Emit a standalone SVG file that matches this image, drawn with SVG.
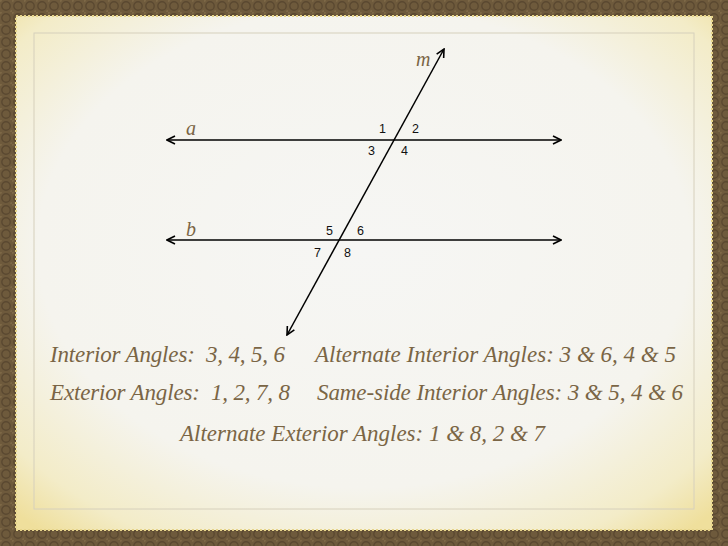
<svg xmlns="http://www.w3.org/2000/svg" width="728" height="546" viewBox="0 0 728 546">
<defs>
<pattern id="frm" width="12" height="12" patternUnits="userSpaceOnUse">
<rect width="12" height="12" fill="#6e5a3c"/>
<circle cx="6" cy="6" r="4.2" fill="none" stroke="#5a4830" stroke-width="1.4"/>
<circle cx="0" cy="0" r="2" fill="#7d6846"/>
<circle cx="12" cy="12" r="2" fill="#7d6846"/>
</pattern>
<radialGradient id="paper" cx="0.5" cy="0.45" r="0.72">
<stop offset="0" stop-color="#f6f6f4"/>
<stop offset="0.65" stop-color="#f5f4ee"/>
<stop offset="0.88" stop-color="#f3ecc8"/>
<stop offset="1" stop-color="#efdf9c"/>
</radialGradient>
<marker id="ah" viewBox="0 0 10 10" refX="9" refY="5" markerWidth="10" markerHeight="10" markerUnits="userSpaceOnUse" orient="auto-start-reverse">
<path d="M1,1 L9,5 L1,9" fill="none" stroke="#000" stroke-width="1.6"/>
</marker>
<style>
.ln{stroke:#000;stroke-width:1.5;fill:none;marker-start:url(#ah);marker-end:url(#ah)}
.num{font-family:"Liberation Sans",Arial,sans-serif;font-size:12.5px;fill:#111}
.var{font-family:"Liberation Serif","Times New Roman",serif;font-style:italic;font-size:20px;fill:#7a6545}
.txt{font-family:"Liberation Serif","Times New Roman",serif;font-style:italic;font-size:23px;fill:#7a6545;white-space:pre}
</style>
</defs>
<rect width="728" height="546" fill="url(#frm)"/>
<rect x="16" y="16" width="696" height="514" fill="url(#paper)" stroke="#e6d48a" stroke-width="2" stroke-dasharray="2 2"/>
<rect x="34" y="33" width="660" height="476" fill="none" stroke="#d6d0bc" stroke-width="1"/>
<g id="connectors">
<line class="ln" x1="167" y1="140" x2="561" y2="140"/>
<line class="ln" x1="167" y1="240" x2="561" y2="240"/>
<line x1="287" y1="335" x2="444" y2="49" stroke="#000" stroke-width="1.5" marker-start="url(#ah)" marker-end="url(#ah)"/>
</g>
<g id="label-m"><text class="var" x="416" y="66">m</text></g>
<g id="label-a"><text class="var" x="186" y="135">a</text></g>
<g id="label-b"><text class="var" x="186" y="236">b</text></g>
<g id="angles">
<text class="num" x="379" y="133">1</text>
<text class="num" x="412" y="133">2</text>
<text class="num" x="368" y="155">3</text>
<text class="num" x="401" y="155">4</text>
<text class="num" x="326" y="235">5</text>
<text class="num" x="357" y="235">6</text>
<text class="num" x="314" y="257">7</text>
<text class="num" x="344" y="257">8</text>
</g>
<g id="text-interior"><text class="txt" x="50" y="362" textLength="235" lengthAdjust="spacing">Interior Angles:  3, 4, 5, 6</text></g>
<g id="text-alt-interior"><text class="txt" x="315" y="362" textLength="361" lengthAdjust="spacing">Alternate Interior Angles: 3 &amp; 6, 4 &amp; 5</text></g>
<g id="text-exterior"><text class="txt" x="50" y="400" textLength="240" lengthAdjust="spacing">Exterior Angles:  1, 2, 7, 8</text></g>
<g id="text-same-side"><text class="txt" x="317" y="400" textLength="366" lengthAdjust="spacing">Same-side Interior Angles: 3 &amp; 5, 4 &amp; 6</text></g>
<g id="text-alt-exterior"><text class="txt" x="180" y="441" textLength="365" lengthAdjust="spacing">Alternate Exterior Angles: 1 &amp; 8, 2 &amp; 7</text></g>
</svg>
